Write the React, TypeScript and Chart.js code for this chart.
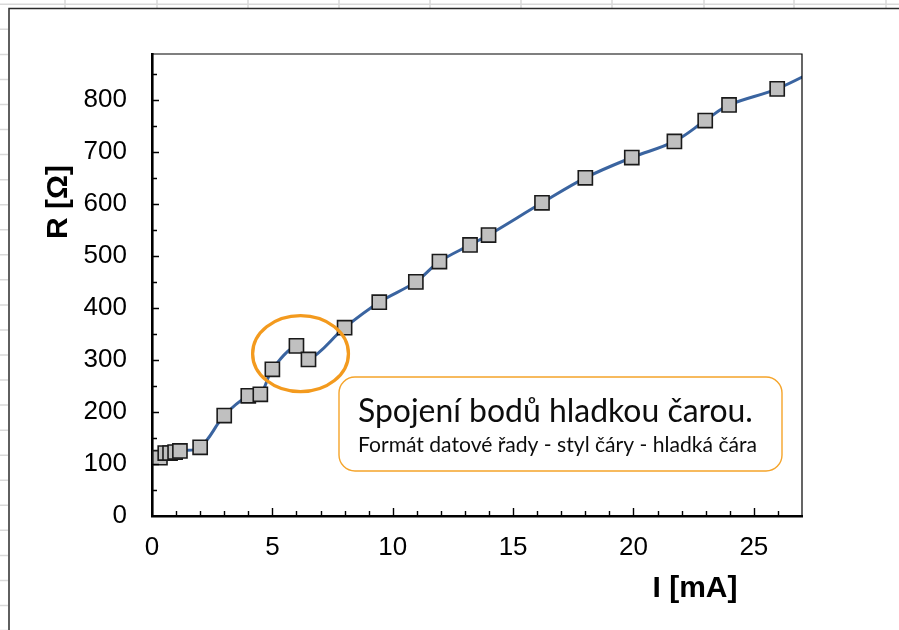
import React, { useEffect, useRef } from "react";
import { Chart, registerables } from "chart.js";

Chart.register(...registerables);

// ---- data ----
const currentMA: number[] = [0.33, 0.55, 0.75, 0.96, 1.16, 2.0, 3.0, 4.0, 4.5, 5.0, 6.0, 6.5, 8.0, 9.44, 10.96, 11.94, 13.21, 13.98, 16.2, 18.0, 19.93, 21.7, 22.98, 23.97, 25.97, 28.0];
const resistance: number[] = [112, 121, 121, 123, 125, 132, 193, 231, 234, 282, 327, 301, 362, 411, 450, 489, 521, 540, 602, 650, 689, 720, 760, 790, 821, 867];
const xTickValues: number[] = [0, 5, 10, 15, 20, 25];
const yTickValues: number[] = [0, 100, 200, 300, 400, 500, 600, 700, 800];
const xTitle = "I [mA]";
const yTitle = "R [Ω]";
const noteTitle = "Spojení bodů hladkou čarou.";
const noteSub = "Formát datové řady - styl čáry - hladká čára";

// ---- styling / layout constants ----
const X_MAX = 27;
const Y_MAX = 888;
const ELLIPSE = { cx: 6.17, cy: 312, rx: 1.99, ry: 73 }; // in data units
const NOTE_BOX = { x: 339, y: 377, w: 443, h: 94, r: 16 };

const decorPlugin = {
  id: "decor",
  beforeDraw(chart: any) {
    const { ctx, width, height } = chart;
    ctx.save();
    ctx.fillStyle = "#ffffff";
    ctx.fillRect(0, 0, width, height);
    // spreadsheet grid behind the chart object
    ctx.strokeStyle = "#d9d9d9";
    ctx.lineWidth = 1.5;
    ctx.beginPath();
    ctx.moveTo(0, 4.3);
    ctx.lineTo(width, 4.3);
    const cols = [65, 157, 248, 339, 430, 521, 612, 704, 794, 886];
    cols.forEach((c) => {
      ctx.moveTo(c, 0);
      ctx.lineTo(c, 8);
    });
    for (let k = 1; k < 27; k++) {
      const y = 4.3 + 25.05 * k;
      ctx.moveTo(0, y);
      ctx.lineTo(8, y);
    }
    ctx.stroke();
    // chart object border
    ctx.strokeStyle = "#2b2b2b";
    ctx.lineWidth = 1.5;
    ctx.beginPath();
    ctx.moveTo(9, height);
    ctx.lineTo(9, 8.5);
    ctx.lineTo(width, 8.5);
    ctx.stroke();
    ctx.restore();
  },
  afterDraw(chart: any) {
    const { ctx, chartArea } = chart;
    const xs = chart.scales.x;
    const ys = chart.scales.y;
    const { left, right, top, bottom } = chartArea;
    ctx.save();
    // frame top/right
    ctx.strokeStyle = "#000";
    ctx.lineWidth = 1.2;
    ctx.beginPath();
    ctx.moveTo(left, top);
    ctx.lineTo(right, top);
    ctx.lineTo(right, bottom);
    ctx.stroke();
    // inward ticks
    ctx.lineWidth = 1.4;
    ctx.beginPath();
    for (let v = 1; v < X_MAX; v++) {
      const px = Math.round(xs.getPixelForValue(v)) + 0.5;
      const len = v % 5 === 0 ? 8 : 5;
      ctx.moveTo(px, bottom);
      ctx.lineTo(px, bottom - len);
    }
    for (let v = 50; v < Y_MAX; v += 50) {
      const py = Math.round(ys.getPixelForValue(v)) + 0.5;
      const len = v % 100 === 0 ? 7 : 5;
      ctx.moveTo(left, py);
      ctx.lineTo(left + len, py);
    }
    ctx.stroke();

    // ellipse highlight
    const ecx = xs.getPixelForValue(ELLIPSE.cx);
    const ecy = ys.getPixelForValue(ELLIPSE.cy);
    const erx = Math.abs(xs.getPixelForValue(ELLIPSE.cx + ELLIPSE.rx) - ecx);
    const ery = Math.abs(ys.getPixelForValue(ELLIPSE.cy + ELLIPSE.ry) - ecy);
    ctx.strokeStyle = "#f39a1e";
    ctx.lineWidth = 3.3;
    ctx.beginPath();
    ctx.ellipse(ecx, ecy, erx, ery, 0, 0, Math.PI * 2);
    ctx.stroke();

    // note box
    const b = NOTE_BOX;
    ctx.fillStyle = "#ffffff";
    ctx.strokeStyle = "#f5a42a";
    ctx.lineWidth = 1.4;
    ctx.beginPath();
    ctx.roundRect(b.x, b.y, b.w, b.h, b.r);
    ctx.fill();
    ctx.stroke();
    ctx.fillStyle = "#0d0d0d";
    ctx.textAlign = "left";
    ctx.textBaseline = "alphabetic";
    const fitFont = (text: string, target: number, base: number) => {
      ctx.font = `${base}px Lato`;
      const w = ctx.measureText(text).width;
      const size = base * target / w;
      ctx.font = `${size.toFixed(2)}px Lato`;
    };
    fitFont(noteTitle, 395, 30);
    ctx.fillText(noteTitle, 358, 422);
    fitFont(noteSub, 399, 18);
    ctx.fillText(noteSub, 358, 452);

    // axis titles
    ctx.fillStyle = "#000";
    ctx.font = "bold 30px 'Liberation Sans'";
    ctx.textAlign = "center";
    ctx.textBaseline = "alphabetic";
    ctx.fillText(xTitle, 695, 597);
    ctx.save();
    ctx.translate(67, 202);
    ctx.rotate(-Math.PI / 2);
    ctx.fillText(yTitle, 0, 0);
    ctx.restore();
    ctx.restore();
  },
};

export default function App() {
  const canvasRef = useRef<HTMLCanvasElement | null>(null);

  useEffect(() => {
    if (!canvasRef.current) return;
    const tickFont = { family: "'Liberation Sans', Arial, sans-serif", size: 26 };
    const chart = new Chart(canvasRef.current, {
      type: "line",
      data: {
        datasets: [
          {
            data: currentMA.map((x, i) => ({ x, y: resistance[i] })),
            borderColor: "#3a64a0",
            borderWidth: 3,
            tension: 0.35,
            pointStyle: "rect",
            pointRadius: currentMA.map((x) => (x > X_MAX ? 0 : 10)),
            pointHoverRadius: 10,
            pointBackgroundColor: "#c0c0c0",
            pointBorderColor: "#1a1a1a",
            pointBorderWidth: 1.6,
            fill: false,
          },
        ],
      },
      options: {
        animation: false,
        responsive: true,
        maintainAspectRatio: false,
        events: [],
        layout: { padding: { top: 54, right: 97, left: 0, bottom: 0 } },
        plugins: { legend: { display: false }, tooltip: { enabled: false } },
        scales: {
          x: {
            type: "linear",
            min: 0,
            max: X_MAX,
            afterFit: (s: any) => { s.height = 114; },
            afterBuildTicks: (s: any) => { s.ticks = xTickValues.map((v) => ({ value: v })); },
            grid: { display: false, drawTicks: false },
            border: { display: true, color: "#000", width: 2.6 },
            ticks: { font: tickFont, color: "#000", padding: 16, maxRotation: 0 },
          },
          y: {
            type: "linear",
            min: 0,
            max: Y_MAX,
            afterFit: (s: any) => { s.width = 152; },
            afterBuildTicks: (s: any) => { s.ticks = yTickValues.map((v) => ({ value: v })); },
            grid: { display: false, drawTicks: false },
            border: { display: true, color: "#000", width: 2.6 },
            ticks: { font: tickFont, color: "#000", padding: 25 },
          },
        },
      },
      plugins: [decorPlugin],
    });
    return () => chart.destroy();
  }, []);

  return (
    <div style={{ position: "fixed", left: 0, top: 0, width: 899, height: 630, background: "#fff" }}>
      <canvas ref={canvasRef} />
    </div>
  );
}
